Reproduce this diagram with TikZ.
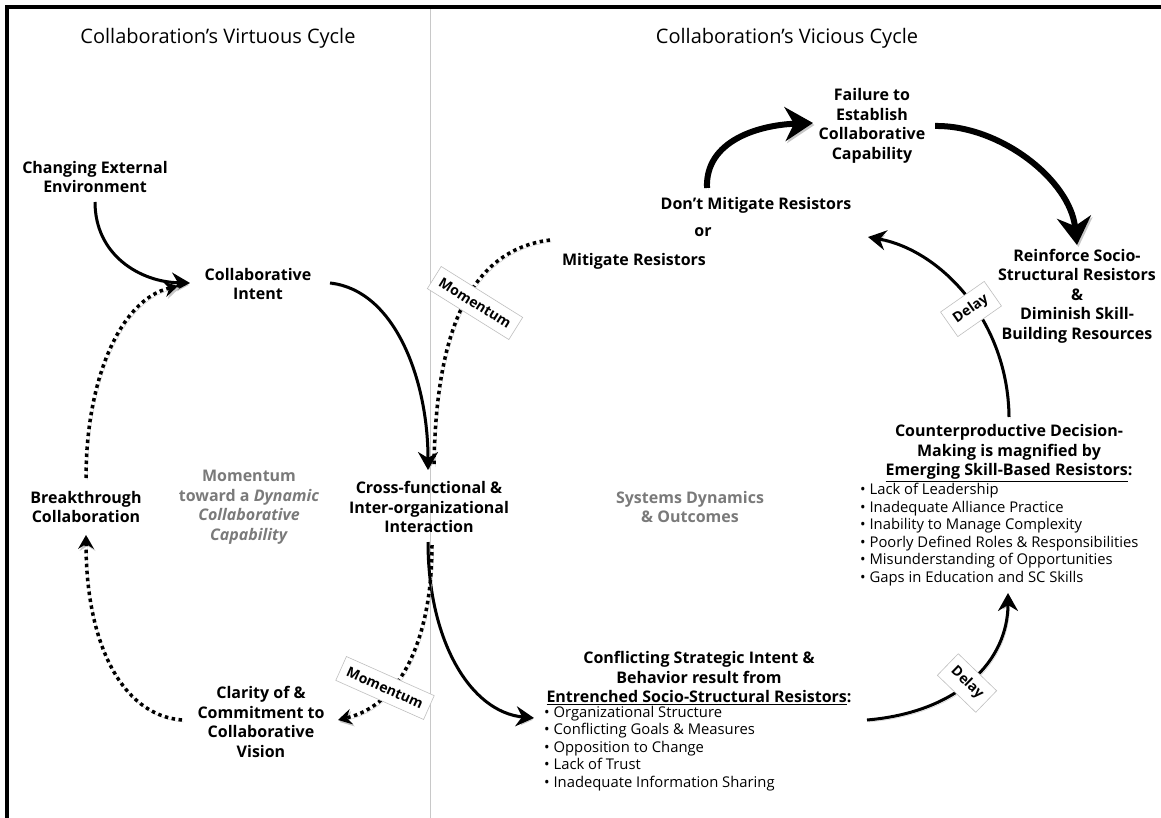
\documentclass[tikz,border=0pt]{standalone}
\usepackage{fontspec}
\setmainfont{Open Sans}
\usetikzlibrary{arrows.meta}
\definecolor{txtgray}{HTML}{7A7A7A}
\definecolor{divgray}{HTML}{C8C8C8}
\tikzset{
  lbl/.style={align=center, font=\bfseries\fontsize{16}{19.5}\selectfont, inner sep=1pt},
  grylbl/.style={lbl, text=txtgray},
  ttl/.style={font=\fontsize{20}{24}\selectfont, inner sep=0pt},
  lst/.style={align=left, font=\fontsize{14.8}{17.5}\selectfont, inner sep=0pt, anchor=north west},
  shd/.style={preaction={draw=black!22, transform canvas={shift={(1.5pt,-2pt)}}}},
  arr/.style={shd, line width=3pt, -{Stealth[length=18pt, width=20pt, inset=6pt]}},
  bigarr/.style={shd, line width=6pt, -{Stealth[length=28pt, width=34pt, inset=9pt]}},
  dotarr/.style={shd, line width=3.5pt, dash pattern=on 3.5pt off 3.5pt, -{Stealth[length=14pt, width=16pt, inset=5pt, line width=0pt]}},
  dotline/.style={shd, line width=3.5pt, dash pattern=on 3.5pt off 3.5pt},
  tag/.style={draw=black!25, line width=0.6pt, fill=white, font=\bfseries\fontsize{14}{16}\selectfont, inner xsep=7pt, inner ysep=8pt}
}
\begin{document}
\begin{tikzpicture}[x=1pt, y=-1pt]
\useasboundingbox (0,0) rectangle (1161,818);
% frame
\draw[divgray, line width=0.8pt] (430,8) -- (430,818);
\draw[line width=3.5pt] (7,818) -- (7,7) -- (1161,7);

% titles
\node[ttl] (t1) at (218,38) {Collaboration’s Virtuous Cycle};
\node[ttl] (t2) at (787,38) {Collaboration’s Vicious Cycle};

% left nodes
\node[lbl] (cee) at (95,177) {Changing External\\Environment};
\node[lbl] (ci) at (258,284) {Collaborative\\Intent};
\node[lbl] (bc) at (86,507) {Breakthrough\\Collaboration};
\node[grylbl] (mom) at (249,507) {Momentum\\toward a \textit{Dynamic}\\\textit{Collaborative}\\\textit{Capability}};
\node[lbl] (cf) at (429,507) {Cross-functional \&\\Inter-organizational\\Interaction};
\node[lbl] (cv) at (261,722) {Clarity of \&\\Commitment to\\Collaborative\\Vision};

% right nodes
\node[grylbl] (sd) at (690,507) {Systems Dynamics\\\& Outcomes};
\node[lbl] (dm) at (756,205) {Don’t Mitigate Resistors};
\node[lbl] (or) at (703,232) {or};
\node[lbl] (mr) at (634,261) {Mitigate Resistors};
\node[lbl] (fe) at (872,126) {Failure to\\Establish\\Collaborative\\Capability};
\node[lbl] (rs) at (1077,296) {Reinforce Socio-\\Structural Resistors\\\&\\Diminish Skill-\\Building Resources};
\node[lbl] (cd) at (1009,453) {Counterproductive Decision-\\Making is magnified by\\\underline{Emerging Skill-Based Resistors}:};
\node[lst] (cdl) at (860,483) {\textbullet\ Lack of Leadership\\\textbullet\ Inadequate Alliance Practice\\\textbullet\ Inability to Manage Complexity\\\textbullet\ Poorly Defined Roles \& Responsibilities\\\textbullet\ Misunderstanding of Opportunities\\\textbullet\ Gaps in Education and SC Skills};
\node[lbl] (cs) at (699,678) {Conflicting Strategic Intent \&\\Behavior result from\\\underline{Entrenched Socio-Structural Resistors}:};
\node[lst] (csl) at (544,706) {\textbullet\ Organizational Structure\\\textbullet\ Conflicting Goals \& Measures\\\textbullet\ Opposition to Change\\\textbullet\ Lack of Trust\\\textbullet\ Inadequate Information Sharing};

% solid arrows
\draw[arr] ([yshift=-25pt]cee.center) .. controls (95,255) and (140,282) .. ([xshift=-68pt,yshift=1pt]ci.center);
\draw[arr] ([xshift=72pt,yshift=1pt]ci.center) .. controls (395,290) and (428,380) .. ([xshift=-1pt,yshift=37pt]cf.center);
\draw[arr] ([xshift=-1pt,yshift=-35pt]cf.center) .. controls (428,640) and (470,712) .. ([xshift=-165pt,yshift=-40pt]cs.center);
\draw[arr] ([xshift=168pt,yshift=-42pt]cs.center) .. controls (960,712) and (1008,660) .. ([xshift=-1pt,yshift=-140pt]cd.center);
\draw[arr] ([xshift=0pt,yshift=36pt]cd.center) .. controls (1008,320) and (940,250) .. ([xshift=112pt,yshift=-32pt]dm.center);
\draw[bigarr] ([xshift=-49pt,yshift=17pt]dm.center) .. controls (705,140) and (760,125) .. ([xshift=-59pt,yshift=3pt]fe.center);
\draw[bigarr] ([xshift=63pt]fe.center) .. controls (1000,125) and (1070,180) .. ([xshift=0pt,yshift=51pt]rs.center);

% dotted
\draw[dotline] ([xshift=-84pt,yshift=21pt]mr.center) .. controls (470,250) and (436,330) .. ([xshift=5pt,yshift=42pt]cf.center);
\draw[dotarr] ([xshift=3pt,yshift=-38pt]cf.center) .. controls (432,640) and (400,705) .. ([xshift=77pt,yshift=2pt]cv.center);
\draw[dotarr] ([xshift=-79pt,yshift=2pt]cv.center) .. controls (120,715) and (86,640) .. ([xshift=0pt,yshift=-28pt]bc.center);
\draw[dotarr] ([yshift=29pt]bc.center) .. controls (86,380) and (120,300) .. ([xshift=-80pt,yshift=-2pt]ci.center);

% tags
\node[tag, rotate=-32] (m1) at (475,303) {Momentum};
\node[tag, rotate=-24] (m2) at (385,688) {Momentum};
\node[tag, rotate=-44] (d1) at (967,683) {Delay};
\node[tag, rotate=35] (d2) at (971,309) {Delay};
\end{tikzpicture}
\end{document}
